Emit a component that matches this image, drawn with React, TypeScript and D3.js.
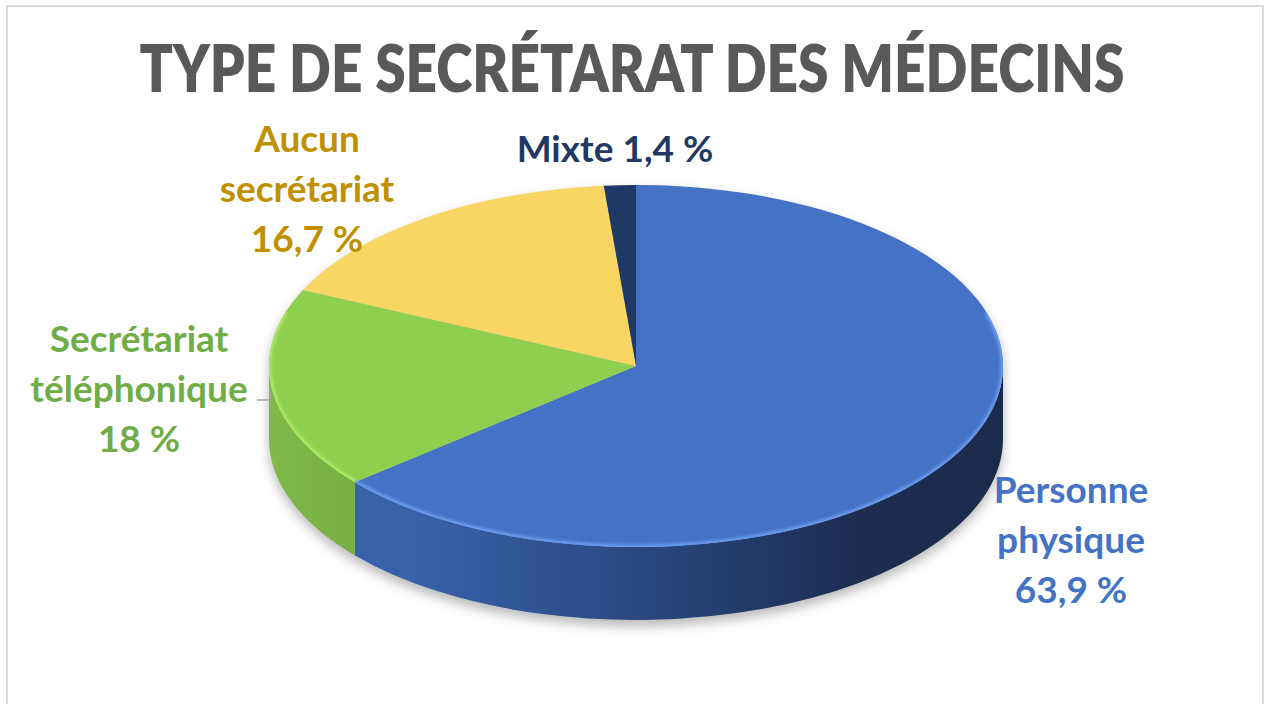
import React, { useLayoutEffect, useRef } from "react";
import * as d3 from "d3";

// data
const categories = ["Personne physique", "Secrétariat téléphonique", "Aucun secrétariat", "Mixte"];
const values = [63.9, 18, 16.7, 1.4];
const valueLabels = ["63,9 %", "18 %", "16,7 %", "1,4 %"];
const labelLines = [
  ["Personne", "physique", "63,9 %"],
  ["Secrétariat", "téléphonique", "18 %"],
  ["Aucun", "secrétariat", "16,7 %"],
  ["Mixte 1,4 %"],
];
const topColors = ["#4472C4", "#8FCF4F", "#F9D663", "#1F3864"];
const rimColors = ["#6b9cf0", "#adea62", "#ffe58c", "#2f4f8a"];
const labelColors = ["#4472C4", "#70AD47", "#BF9000", "#1F3864"];
const title = "TYPE DE SECRÉTARAT DES MÉDECINS";

const W = 1266;
const H = 704;
const cx = 636;
const cy = 366;
const rx = 367;
const ry = 181;
const depth = 73;

// label anchor positions (centre x, first baseline y)
const labelPos = [
  [1071, 503],
  [139, 352],
  [307, 152],
  [615, 162],
];

const pt = (a: number, dy = 0): [number, number] => [cx + rx * Math.sin(a), cy - ry * Math.cos(a) + dy];

function topPath(a0: number, a1: number) {
  const p0 = pt(a0);
  const p1 = pt(a1);
  const large = a1 - a0 > Math.PI ? 1 : 0;
  return `M${cx},${cy}L${p0[0]},${p0[1]}A${rx},${ry} 0 ${large} 1 ${p1[0]},${p1[1]}Z`;
}

function clipRange(a0: number, a1: number, lo: number, hi: number) {
  const b0 = Math.max(a0, lo);
  const b1 = Math.min(a1, hi);
  return b1 > b0 ? [b0, b1] : null;
}

function sidePath(a0: number, a1: number) {
  const r = clipRange(a0, a1, Math.PI / 2, (3 * Math.PI) / 2);
  if (!r) return null;
  const p0 = pt(r[0]);
  const p1 = pt(r[1]);
  const q1 = pt(r[1], depth);
  const q0 = pt(r[0], depth);
  return `M${p0[0]},${p0[1]}A${rx},${ry} 0 0 1 ${p1[0]},${p1[1]}L${q1[0]},${q1[1]}A${rx},${ry} 0 0 0 ${q0[0]},${q0[1]}Z`;
}

function rimPath(a0: number, a1: number) {
  const r = clipRange(a0, a1, Math.PI / 2 - 0.3, (3 * Math.PI) / 2 + 0.3);
  if (!r) return null;
  const p0 = pt(r[0]);
  const p1 = pt(r[1]);
  return `M${p0[0]},${p0[1]}A${rx},${ry} 0 0 1 ${p1[0]},${p1[1]}`;
}

export default function App() {
  const titleRef = useRef<SVGTextElement>(null);

  useLayoutEffect(() => {
    const t = titleRef.current;
    if (!t) return;
    const w = t.getComputedTextLength();
    const k = 985 / w;
    t.setAttribute("transform", `translate(${W / 2 - 1},0) scale(${k},1)`);
  }, []);

  const pie = d3
    .pie<number>()
    .sort(null)
    .startAngle(0)
    .endAngle(2 * Math.PI);
  const arcs = pie(values);

  const silhouette = `M${cx - rx},${cy}A${rx},${ry} 0 0 1 ${cx + rx},${cy}L${cx + rx},${cy + depth}A${rx},${ry} 0 0 1 ${cx - rx},${cy + depth}Z`;

  return (
    <svg width={W} height={H} style={{ position: "absolute", left: 0, top: 0, background: "#fff" }}>
      <defs>
        <filter id="shadow" x="-20%" y="-20%" width="140%" height="140%">
          <feGaussianBlur stdDeviation="6" />
        </filter>
        <filter id="soft" x="-10%" y="-10%" width="120%" height="120%">
          <feGaussianBlur stdDeviation="1.4" />
        </filter>
        <clipPath id="topClip">
          <ellipse cx={cx} cy={cy} rx={rx} ry={ry} />
        </clipPath>
        <linearGradient id="sideBlue" gradientUnits="userSpaceOnUse" x1={cx - rx} x2={cx + rx} y1={0} y2={0}>
          <stop offset="0.2" stopColor="#3762aa" />
          <stop offset="0.45" stopColor="#2c4d88" />
          <stop offset="0.65" stopColor="#223b69" />
          <stop offset="0.8" stopColor="#1c2d50" />
          <stop offset="1" stopColor="#1b2b4c" />
        </linearGradient>
        <linearGradient id="sideGreen" gradientUnits="userSpaceOnUse" x1={cx - rx} x2={cx - rx + 90} y1={0} y2={0}>
          <stop offset="0" stopColor="#80b94a" />
          <stop offset="1" stopColor="#77ae42" />
        </linearGradient>
      </defs>

      <rect x={7} y={6} width={1256} height={720} fill="none" stroke="#d9d9d9" strokeWidth={2} />

      <text
        ref={titleRef}
        x={0}
        y={92}
        textAnchor="middle"
        fontFamily="Lato, 'Open Sans', sans-serif"
        fontWeight={800}
        fontSize={66}
        fill="#595959"
        transform={`translate(${W / 2 - 1},0) scale(0.8,1)`}
      >
        {title}
      </text>

      {/* soft shadow under the pie */}
      <path d={silhouette} transform="translate(0,6)" fill="rgba(0,0,0,0.28)" filter="url(#shadow)" />

      {/* side walls */}
      {arcs.map((a, i) => {
        const d = sidePath(a.startAngle, a.endAngle);
        if (!d) return null;
        const fill = i === 0 ? "url(#sideBlue)" : i === 1 ? "url(#sideGreen)" : topColors[i];
        return <path key={"s" + i} d={d} fill={fill} />;
      })}

      {/* top faces */}
      {arcs.map((a, i) => (
        <path key={"t" + i} d={topPath(a.startAngle, a.endAngle)} fill={topColors[i]} />
      ))}

      {/* bevel rim highlight on the front edge */}
      <g clipPath="url(#topClip)">
        {arcs.map((a, i) => {
          const d = rimPath(a.startAngle, a.endAngle);
          if (!d) return null;
          return (
            <path key={"r" + i} d={d} fill="none" stroke={rimColors[i]} strokeWidth={5} filter="url(#soft)" />
          );
        })}
      </g>

      {/* leader line for the left label */}
      <polyline points="257,400 270,400 270,390" fill="none" stroke="#a6a6a6" strokeWidth={1.5} />

      {/* data labels */}
      {labelLines.map((lines, i) => (
        <text
          key={"l" + i}
          x={labelPos[i][0]}
          y={labelPos[i][1]}
          textAnchor="middle"
          fontFamily="Lato, 'Open Sans', sans-serif"
          fontWeight={700}
          fontSize={37}
          fill={labelColors[i]}
          aria-label={categories[i] + " " + valueLabels[i]}
        >
          {lines.map((ln, j) => (
            <tspan key={j} x={labelPos[i][0]} dy={j === 0 ? 0 : 50}>
              {ln}
            </tspan>
          ))}
        </text>
      ))}
    </svg>
  );
}
